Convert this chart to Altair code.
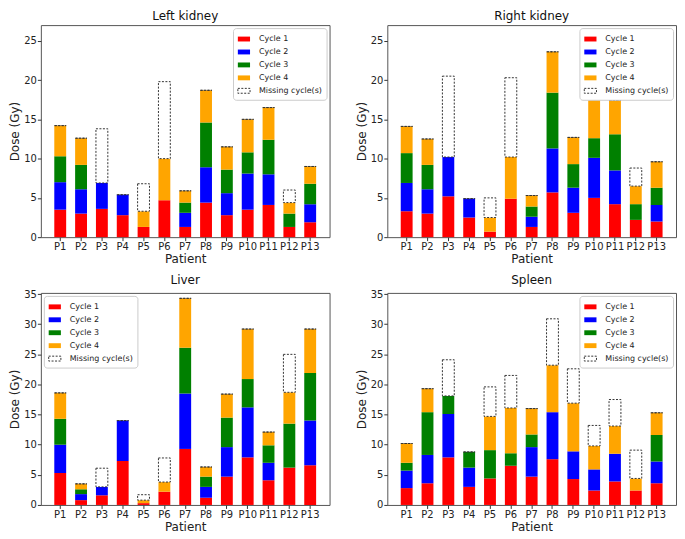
import altair as alt
import pandas as pd

PATIENTS = [f"P{i}" for i in range(1, 14)]
CYCLES = ["Cycle 1", "Cycle 2", "Cycle 3", "Cycle 4", "Missing cycle(s)"]
FILLS = ["#ff0000", "#0000ff", "#008000", "#ffa500", "#ffffff"]

# Left kidney (segment doses, Gy)
LK_C1 = [3.5, 3.0, 3.6, 2.8, 1.3, 4.7, 1.3, 4.4, 2.8, 3.5, 4.1, 1.3, 1.9]
LK_C2 = [3.5, 3.1, 3.3, 2.6, 0.0, 0.0, 1.8, 4.5, 2.8, 4.6, 3.9, 0.0, 2.3]
LK_C3 = [3.3, 3.1, 0.0, 0.0, 0.0, 0.0, 1.3, 5.7, 3.0, 2.7, 4.4, 1.7, 2.6]
LK_C4 = [3.9, 3.4, 0.0, 0.0, 2.0, 5.3, 1.5, 4.1, 2.9, 4.2, 4.1, 1.4, 2.2]
LK_MISS = [0.0, 0.0, 6.9, 0.0, 3.5, 9.8, 0.0, 0.0, 0.0, 0.0, 0.0, 1.6, 0.0]

# Right kidney
RK_C1 = [3.3, 3.0, 5.2, 2.5, 0.7, 4.9, 1.3, 5.7, 3.1, 5.0, 4.2, 2.2, 2.0]
RK_C2 = [3.6, 3.1, 5.0, 2.4, 0.0, 0.0, 1.3, 5.6, 3.2, 5.1, 4.3, 0.0, 2.1]
RK_C3 = [3.8, 3.1, 0.0, 0.0, 0.0, 0.0, 1.3, 7.1, 3.0, 2.5, 4.6, 2.0, 2.2]
RK_C4 = [3.4, 3.3, 0.0, 0.0, 1.8, 5.3, 1.4, 5.2, 3.4, 5.4, 4.3, 2.3, 3.3]
RK_MISS = [0.0, 0.0, 10.3, 0.0, 2.5, 10.1, 0.0, 0.0, 0.0, 0.0, 0.0, 2.3, 0.0]

# Liver
LV_C1 = [5.3, 0.8, 1.6, 7.3, 0.3, 2.2, 9.3, 1.2, 4.7, 7.9, 4.1, 6.2, 6.6]
LV_C2 = [4.7, 1.0, 1.4, 6.7, 0.0, 0.0, 9.2, 1.8, 4.9, 8.3, 2.9, 0.0, 7.4]
LV_C3 = [4.3, 0.8, 0.0, 0.0, 0.0, 0.0, 7.6, 1.7, 4.9, 4.7, 2.9, 7.3, 7.9]
LV_C4 = [4.3, 0.9, 0.0, 0.0, 0.5, 1.6, 8.2, 1.6, 3.9, 8.3, 2.2, 5.2, 7.3]
LV_MISS = [0.0, 0.0, 3.1, 0.0, 0.9, 4.0, 0.0, 0.0, 0.0, 0.0, 0.0, 6.3, 0.0]

# Spleen
SP_C1 = [2.8, 3.6, 7.9, 3.0, 4.4, 6.5, 4.7, 7.6, 4.3, 2.4, 3.9, 2.4, 3.6]
SP_C2 = [2.9, 4.7, 7.2, 3.2, 0.0, 0.0, 4.9, 7.8, 4.6, 3.5, 4.6, 0.0, 3.6]
SP_C3 = [1.3, 7.1, 3.0, 2.6, 4.7, 2.1, 2.1, 0.0, 0.0, 0.0, 0.0, 0.0, 4.4]
SP_C4 = [3.2, 3.9, 0.0, 0.0, 5.6, 7.5, 4.3, 7.8, 8.0, 3.9, 4.6, 2.0, 3.7]
SP_MISS = [0.0, 0.0, 6.0, 0.0, 4.9, 5.4, 0.0, 7.7, 5.7, 3.4, 4.4, 4.7, 0.0]

KIDNEY_TICKS = [0, 5, 10, 15, 20, 25]
BIG_TICKS = [0, 5, 10, 15, 20, 25, 30, 35]

RECT = "M-1,-0.4L1,-0.4L1,0.4L-1,0.4Z"


def long_df(series):
    rows = []
    for k, (name, vals) in enumerate(zip(CYCLES, series)):
        for p, v in zip(PATIENTS, vals):
            rows.append({"patient": p, "cycle": name, "ord": k, "dose": v})
    return pd.DataFrame(rows)


def legend(orient):
    return alt.Legend(
        title=None, orient=orient, offset=3, padding=4,
        strokeColor="#cccccc", fillColor="white", cornerRadius=3,
        labelFontSize=8, labelFont="DejaVu Sans", labelColor="#222222",
        symbolType=RECT, symbolSize=150, symbolStrokeWidth=1,
        labelOffset=8, rowPadding=1,
    )


def panel(title, series, ymax, ticks, orient):
    df = long_df(series)
    return alt.Chart(df, title=alt.Title(title)).mark_bar(strokeWidth=1).encode(
        x=alt.X("patient:N", sort=PATIENTS,
                scale=alt.Scale(paddingInner=0.43, paddingOuter=0.645),
                axis=alt.Axis(title="Patient", labelAngle=0, labelOverlap=False)),
        y=alt.Y("dose:Q", stack="zero",
                scale=alt.Scale(domain=[0, ymax], nice=False, zero=True),
                axis=alt.Axis(title="Dose (Gy)", values=ticks)),
        fill=alt.Fill("cycle:N", sort=CYCLES,
                      scale=alt.Scale(domain=CYCLES, range=FILLS),
                      legend=legend(orient)),
        stroke=alt.Stroke("cycle:N", sort=CYCLES,
                          scale=alt.Scale(domain=CYCLES,
                                          range=["transparent"] * 4 + ["#333333"]),
                          legend=legend(orient)),
        strokeDash=alt.StrokeDash("cycle:N", sort=CYCLES,
                                  scale=alt.Scale(domain=CYCLES,
                                                  range=[[1, 0]] * 4 + [[2, 1.5]]),
                                  legend=legend(orient)),
        order=alt.Order("ord:Q", sort="ascending"),
    ).properties(width=290, height=213)


def indep(ch):
    return ch.resolve_scale(
        x="independent", y="independent", fill="independent",
        stroke="independent", strokeDash="independent"
    ).resolve_legend(
        fill="independent", stroke="independent", strokeDash="independent"
    )


p1 = panel("Left kidney", [LK_C1, LK_C2, LK_C3, LK_C4, LK_MISS], 27, KIDNEY_TICKS, "top-right")
p2 = panel("Right kidney", [RK_C1, RK_C2, RK_C3, RK_C4, RK_MISS], 27, KIDNEY_TICKS, "top-right")
p3 = panel("Liver", [LV_C1, LV_C2, LV_C3, LV_C4, LV_MISS], 35.2, BIG_TICKS, "top-left")
p4 = panel("Spleen", [SP_C1, SP_C2, SP_C3, SP_C4, SP_MISS], 35.2, BIG_TICKS, "top-right")

row1 = indep(alt.hconcat(p1, p2, spacing=24))
row2 = indep(alt.hconcat(p3, p4, spacing=24))
chart = indep(alt.vconcat(row1, row2, spacing=8)).properties(
    padding=0
).configure_view(
    stroke="#555555", strokeWidth=1
).configure_axis(
    labelFont="DejaVu Sans", titleFont="DejaVu Sans",
    labelFontSize=10, titleFontSize=12, titleFontWeight="normal",
    labelColor="#222222", titleColor="#222222",
    tickColor="#333333", tickSize=3.5, labelPadding=1, titlePadding=2,
    domain=False, grid=False,
).configure_title(
    font="DejaVu Sans", fontSize=12, fontWeight="normal", color="#111111", offset=2
)

chart.save("out.html", embed_options={"renderer": "svg", "actions": False})
